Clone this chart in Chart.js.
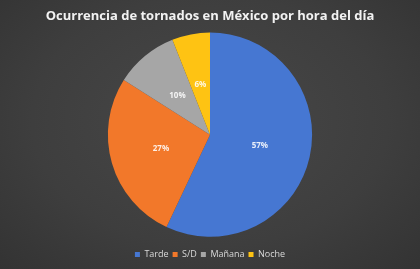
<!DOCTYPE html>
<html>
<head>
<meta charset="utf-8">
<script src="https://cdn.jsdelivr.net/npm/chart.js@4/dist/chart.umd.min.js"></script>
<style>
    html, body {
        margin: 0;
        padding: 0;
        width: 420px;
        height: 269px;
        overflow: hidden;
        background: radial-gradient(ellipse at 50% 45%, #484848 0%, #3e3e3e 60%, #333333 100%);
    }
    #wrap {
        position: relative;
        width: 420px;
        height: 269px;
    }
</style>
</head>
<body>
<div id="wrap"><canvas id="chart"></canvas></div>
<script>
const categories = ['Tarde', 'S/D', 'Mañana', 'Noche'];
const shares = [57, 27, 10, 6];
const sliceColors = ['#4677d2', '#f2782a', '#a6a6a6', '#fec313'];

// draws the percent labels at the middle of each slice
const sliceLabels = {
    id: 'sliceLabels',
    afterDatasetsDraw(chart) {
        const ctx = chart.ctx;
        const meta = chart.getDatasetMeta(0);
        ctx.save();
        ctx.font = 'bold 8px "Open Sans", sans-serif';
        ctx.fillStyle = 'rgba(255, 255, 255, 0.88)';
        ctx.textAlign = 'center';
        ctx.textBaseline = 'middle';
        meta.data.forEach((arc, i) => {
            const pos = arc.tooltipPosition();
            ctx.fillText(shares[i] + '%', pos.x, pos.y);
        });
        ctx.restore();
    },
};

new Chart(document.getElementById('chart'), {
    type: 'pie',
    data: {
        labels: categories,
        datasets: [{
            data: shares,
            backgroundColor: sliceColors,
            borderWidth: 0,
        }],
    },
    options: {
        responsive: true,
        maintainAspectRatio: false,
        animation: false,
        plugins: {
            title: {
                display: true,
                text: 'Ocurrencia de tornados en México por hora del día',
                color: '#f2f2f2',
                font: { family: '"Open Sans", sans-serif', size: 13, weight: 'bold' },
                padding: { top: 8, bottom: 9 },
            },
            legend: {
                position: 'bottom',
                // empty title only used as a spacer between pie and legend
                title: {
                    display: true,
                    text: ' ',
                    font: { size: 1 },
                    padding: { top: 0, bottom: 8 },
                },
                labels: {
                    color: '#d9d9d9',
                    font: { family: '"Open Sans", sans-serif', size: 9 },
                    boxWidth: 5,
                    boxHeight: 5,
                    padding: 4,
                },
            },
            tooltip: { enabled: false },
        },
    },
    plugins: [sliceLabels],
});
</script>
</body>
</html>
